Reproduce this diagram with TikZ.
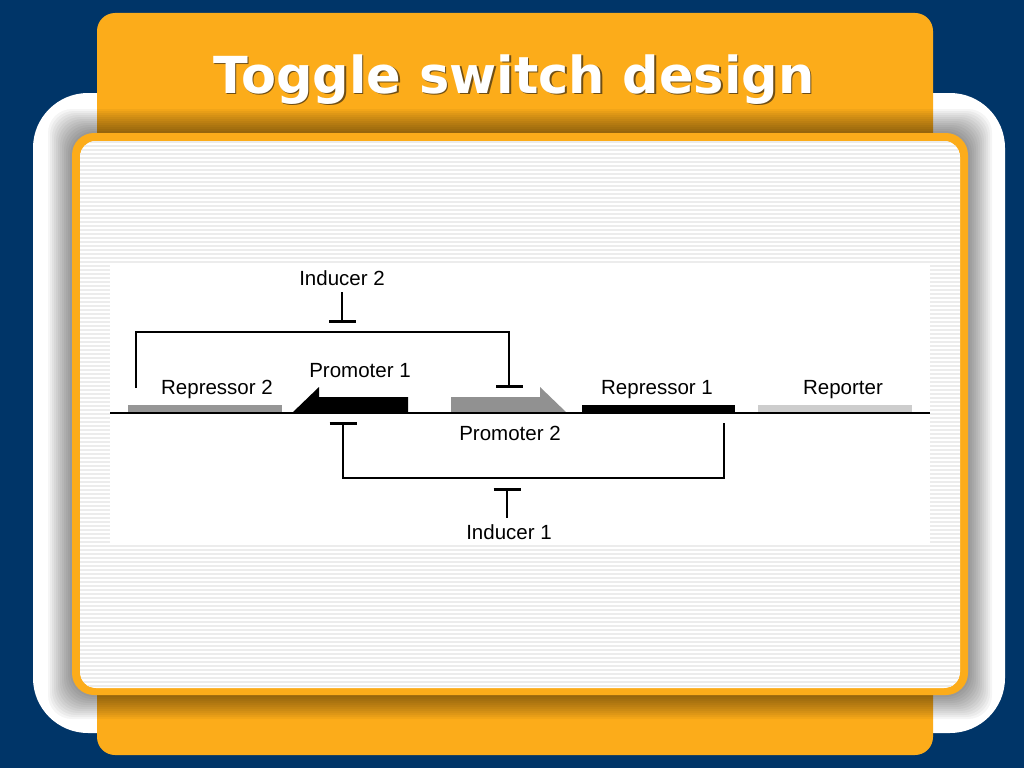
\documentclass[tikz,border=0pt]{standalone}
\usepackage{fontspec}
\setmainfont{Liberation Sans}
\newfontfamily\titlefont{DejaVu Sans}
\usetikzlibrary{arrows.meta}
\definecolor{navy}{RGB}{0,53,104}
\definecolor{tab}{RGB}{252,172,26}
\definecolor{tabdark}{RGB}{110,78,22}
\definecolor{stripe}{RGB}{236,236,236}
\definecolor{repgray}{RGB}{150,150,150}
\definecolor{progray}{RGB}{145,145,145}
\definecolor{repolight}{RGB}{205,205,205}
\tikzset{
  inhib/.style={line width=2.8pt,-{Bar[width=27pt]}},
  genelabel/.style={font=\fontsize{20.5}{24}\selectfont,inner sep=0pt,anchor=base},
}
\begin{document}
\begin{tikzpicture}[x=1pt,y=-1pt]
   \useasboundingbox (0,0) rectangle (1024,768);
   % slide frame
   \fill[navy] (0,0) rectangle (1024,768);
   \fill[white,rounded corners=55pt] (33,93) rectangle (1005,733);
   \fill[tab,rounded corners=18pt] (97,13) rectangle (933,755);
   \foreach \i in {1,...,12}
     \fill[black,opacity=0.04,rounded corners=24pt] (72-2*\i,133-2*\i) rectangle (968+2*\i,695+2*\i);
   \fill[tab,rounded corners=22pt] (72,133) rectangle (968,695);
   \fill[white,rounded corners=16pt] (80,141) rectangle (960,688);
   \begin{scope}
     \clip[rounded corners=16pt] (80,141) rectangle (960,688);
     \foreach \y in {142,146,...,688}
       \draw[stripe,line width=1.5pt] (80,\y) -- (960,\y);
   \end{scope}
   \node[font=\titlefont\bfseries\fontsize{51}{60}\selectfont,text=tabdark,anchor=base] at (515.5,94.5) {Toggle switch design};
   \node (title) [font=\titlefont\bfseries\fontsize{51}{60}\selectfont,text=white,anchor=base] at (514,93) {Toggle switch design};
   % diagram
   \fill[white] (110,265) rectangle (930,543);
   \fill[repgray] (128,405) rectangle (282,413);
   \fill[black] (292,413) -- (319,387) -- (319,397) -- (408,397) -- (408,413) -- cycle;
   \fill[progray] (451,413) -- (451,397) -- (540,397) -- (540,387) -- (567,413) -- cycle;
   \fill[black] (582,405) rectangle (735,413);
   \fill[repolight] (758,405) rectangle (912,413);
   \draw[line width=2.5pt] (110,413) -- (930,413);
   \node (rep2) [genelabel] at (217,394) {Repressor 2};
   \node (pro1) [genelabel] at (360,377) {Promoter 1};
   \node (pro2) [genelabel] at (510,440) {Promoter 2};
   \node (rep1) [genelabel] at (657,394) {Repressor 1};
   \node (repo) [genelabel] at (843,394) {Reporter};
   \node (ind2) [genelabel] at (342,285) {Inducer 2};
   \node (ind1) [genelabel] at (509,539) {Inducer 1};
   \coordinate (r2) at (136,388);
   \coordinate (p2) at (509,388);
   \coordinate (r1) at (724,423);
   \coordinate (p1) at (343,422);
   \coordinate (i2) at (342,323);
   \coordinate (i1) at (507,488);
   \draw[inhib] (r2) -- ++(0,-56) -| (p2);
   \draw[inhib] (r1) -- ++(0,55) -| (p1);
   \draw[inhib] ([yshift=-7pt]ind2.south) -- (i2);
   \draw[inhib] ([yshift=6pt]ind1.north -| i1) -- (i1);
\end{tikzpicture}
\end{document}
